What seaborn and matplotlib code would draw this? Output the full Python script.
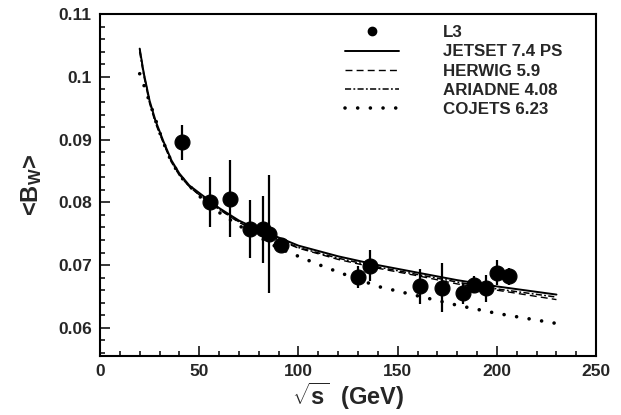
import matplotlib
matplotlib.use("Agg")
import matplotlib.pyplot as plt
import seaborn as sns
from matplotlib.lines import Line2D
from matplotlib.ticker import MultipleLocator

# L3 measurements
sqrt_s = [41.4, 55.3, 65.4, 75.7, 82.3, 85.1, 91.2, 130.1, 136.1, 161.3,
          172.3, 182.8, 188.6, 194.4, 200.2, 206.2]
bw_mean = [0.0896, 0.0800, 0.0806, 0.0758, 0.0757, 0.0750, 0.0732, 0.0681,
           0.0699, 0.0666, 0.0664, 0.0655, 0.0669, 0.0663, 0.0688, 0.0682]
bw_err = [0.0028, 0.0040, 0.0062, 0.0046, 0.0053, 0.0094, 0.0010, 0.0017,
          0.0025, 0.0028, 0.0039, 0.0017, 0.0013, 0.0022, 0.0020, 0.0013]

# MC predictions
mc_x = [20, 22, 25, 28, 32, 36, 40, 45, 50, 60, 70, 80, 90, 100, 120, 140,
        160, 180, 200, 230]
jetset = [0.1045, 0.1007, 0.0962, 0.0930, 0.0897, 0.0867, 0.0846, 0.0827,
          0.0815, 0.0791, 0.0771, 0.0756, 0.0744, 0.0731, 0.0714, 0.0700,
          0.0688, 0.0676, 0.0666, 0.0653]
herwig = [0.1045, 0.1007, 0.0960, 0.0928, 0.0895, 0.0865, 0.0844, 0.0825,
          0.0812, 0.0789, 0.0768, 0.0753, 0.0740, 0.0727, 0.0709, 0.0695,
          0.0683, 0.0670, 0.0660, 0.0645]
ariadne = [0.1040, 0.1003, 0.0958, 0.0926, 0.0894, 0.0864, 0.0843, 0.0825,
           0.0812, 0.0789, 0.0769, 0.0754, 0.0741, 0.0728, 0.0711, 0.0697,
           0.0685, 0.0673, 0.0662, 0.0649]
cojets_x = [20, 22, 25, 28, 31, 35, 40, 50, 60, 70, 80, 90, 100, 110, 120,
            140, 160, 180, 200, 230]
cojets = [0.1005, 0.0988, 0.0960, 0.0932, 0.0903, 0.0872, 0.0843, 0.0810,
          0.0784, 0.0763, 0.0745, 0.0727, 0.0714, 0.0701, 0.0689, 0.0666,
          0.0651, 0.0636, 0.0623, 0.0607]

sns.set_theme(style="ticks")
plt.rcParams["font.family"] = ["Liberation Sans", "DejaVu Sans"]
plt.rcParams["font.weight"] = "bold"
plt.rcParams["mathtext.fontset"] = "custom"
plt.rcParams["mathtext.rm"] = "Liberation Sans:bold"
plt.rcParams["mathtext.it"] = "Liberation Sans:bold"
plt.rcParams["mathtext.bf"] = "Liberation Sans:bold"

fig = plt.figure(figsize=(6.21, 4.15), dpi=100)
ax = fig.add_axes([0.161, 0.142, 0.799, 0.824])

sns.lineplot(x=mc_x, y=jetset, ax=ax, color="black", lw=1.4)
sns.lineplot(x=mc_x, y=herwig, ax=ax, color="black", lw=1.0,
             linestyle=(0, (5, 3)))
sns.lineplot(x=mc_x, y=ariadne, ax=ax, color="black", lw=1.1,
             linestyle=(0, (4, 1.5, 1.2, 1.5)))
sns.lineplot(x=cojets_x, y=cojets, ax=ax, color="black", lw=2.6,
             linestyle=(0, (0.01, 3.5)), dash_capstyle="round")
lines = ax.get_lines()

ax.errorbar(sqrt_s, bw_mean, yerr=bw_err, fmt="none", ecolor="black",
            elinewidth=1.6, capsize=0)
sns.scatterplot(x=sqrt_s, y=bw_mean, ax=ax, color="black", s=115,
                edgecolor="black", zorder=5)

ax.set_xlim(0, 250)
ax.set_ylim(0.0555, 0.11)
ax.xaxis.set_major_locator(MultipleLocator(50))
ax.xaxis.set_minor_locator(MultipleLocator(10))
ax.yaxis.set_major_locator(MultipleLocator(0.01))
ax.yaxis.set_minor_locator(MultipleLocator(0.002))
ax.yaxis.set_major_formatter(lambda v, p: f"{v:g}")
ax.tick_params(which="both", direction="in", top=False, right=False,
               width=1.3, labelsize=12.5, pad=6)
ax.tick_params(which="major", length=7)
ax.tick_params(which="minor", length=3.5)
for sp in ax.spines.values():
    sp.set_visible(True)
    sp.set_linewidth(1.5)
    sp.set_color("black")

ax.set_xlabel(r"$\sqrt{s}$  (GeV)", fontsize=17, fontweight="bold", labelpad=1)
ax.set_ylabel(r"<B$_W$>", fontsize=17, fontweight="bold", labelpad=10)

handles = [Line2D([], [], color="black", marker="o", markersize=6, ls="none")]
handles += lines[:4]
labels = ["L3", "JETSET 7.4 PS", "HERWIG 5.9", "ARIADNE 4.08", "COJETS 6.23"]
ax.legend(handles, labels, loc="upper left", bbox_to_anchor=(0.494, 0.967),
          frameon=False, handlelength=3.2, handletextpad=2.55,
          labelspacing=0.24, borderpad=0, borderaxespad=0,
          prop={"weight": "bold", "size": 12.2})

fig.savefig("out.png", dpi=100)
